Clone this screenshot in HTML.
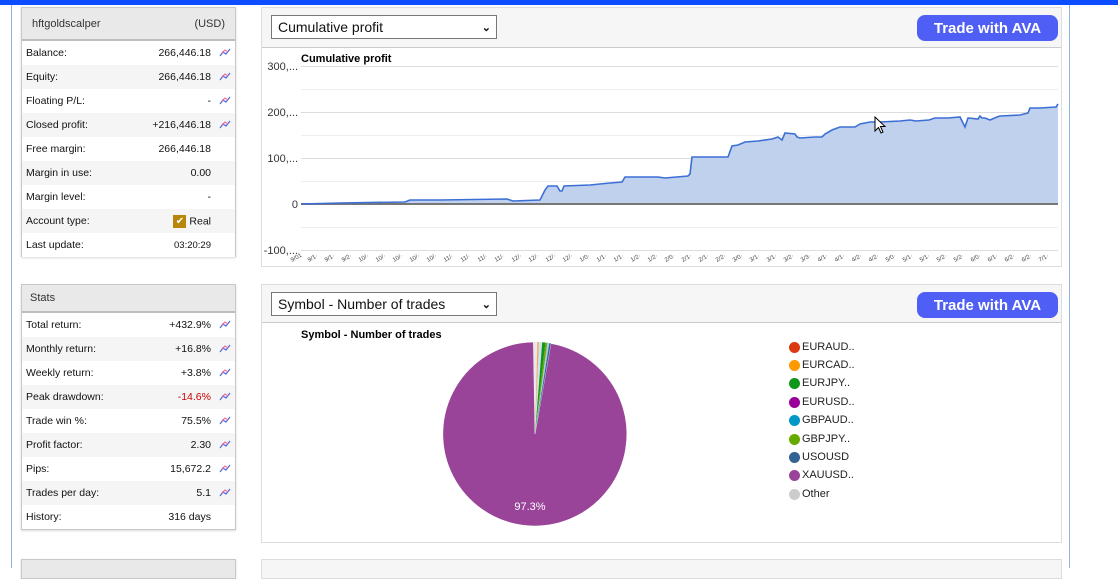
<!DOCTYPE html>
<html><head><meta charset="utf-8"><style>
*{margin:0;padding:0;box-sizing:border-box}
body{width:1118px;height:568px;overflow:hidden;background:#fff;font-family:"Liberation Sans",sans-serif;position:relative}
.abs{position:absolute}
.panel{position:absolute;border:1px solid #c8c8c8;background:#fff;box-shadow:0 1px 2px rgba(0,0,0,.15)}
.ph{background:#e9e9e9;border-bottom:2px solid #bdbdbd;font-size:11px;color:#333;padding-left:10px;display:flex;align-items:center;justify-content:space-between;padding-right:10px}
.row{height:24px;display:flex;align-items:center;font-size:10.5px;color:#111;padding-left:4px;position:relative}
.row .v{position:absolute;right:24px}
.row .ic{position:absolute;right:4px;top:6px;width:12px;height:10px}
.cp{position:absolute;border:1px solid #ddd;background:#f6f6f6}
.sel{position:absolute;border:1px solid #777;background:#fff;font-size:14px;color:#111;padding-left:6px;display:flex;align-items:center}
.btn{position:absolute;background:#4f5ff5;color:#fff;border-radius:8px;font-weight:bold;font-size:15px;display:flex;align-items:center;justify-content:center;font-family:"Liberation Sans",sans-serif}
.lg{position:absolute;font-size:11px;color:#222;left:802px}
.dot{position:absolute;left:789px;width:11px;height:11px;border-radius:50%}
</style></head><body>
<div class="abs" style="left:0;top:0;width:1118px;height:5px;background:#0c4dff"></div>
<div class="abs" style="left:11px;top:5px;width:1px;height:563px;background:#8fb0e6"></div>
<div class="abs" style="left:1069px;top:5px;width:1px;height:563px;background:#8fb0e6"></div>

<svg width="0" height="0" style="position:absolute"><defs><symbol id="ico" viewBox="0 0 12 10"><path d="M1 9 L4 5 L7 7 L11 2" stroke="#5a6ee0" stroke-width="1.3" fill="none"/><path d="M3 6 L6 3 L9 5" stroke="#e0609a" stroke-width="1" fill="none"/></symbol></defs></svg>

<div class="panel" style="left:21px;top:7px;width:215px;height:250px">
 <div class="ph" style="height:33px"><span>hftgoldscalper</span><span>(USD)</span></div>
 <div>
 <div class="row" style="background:#fff">Balance:<span class="v">266,446.18</span><svg class="ic"><use href="#ico"/></svg></div>
 <div class="row" style="background:#f5f5f5">Equity:<span class="v">266,446.18</span><svg class="ic"><use href="#ico"/></svg></div>
 <div class="row" style="background:#fff">Floating P/L:<span class="v">-</span><svg class="ic"><use href="#ico"/></svg></div>
 <div class="row" style="background:#f5f5f5">Closed profit:<span class="v">+216,446.18</span><svg class="ic"><use href="#ico"/></svg></div>
 <div class="row" style="background:#fff">Free margin:<span class="v">266,446.18</span></div>
 <div class="row" style="background:#f5f5f5">Margin in use:<span class="v">0.00</span></div>
 <div class="row" style="background:#fff">Margin level:<span class="v">-</span></div>
 <div class="row" style="background:#f5f5f5">Account type:<span class="v"><span style="display:inline-block;width:13px;height:13px;background:#b8860b;color:#fff;font-size:10px;text-align:center;line-height:13px;vertical-align:middle;margin-right:3px">✔</span>Real</span></div>
 <div class="row" style="background:#fff">Last update:<span class="v" style="font-size:9.5px">03:20:29</span></div>
 </div>
</div>

<div class="panel" style="left:21px;top:284px;width:215px;height:246px">
 <div class="ph" style="height:28px;justify-content:flex-start;padding-left:8px">Stats</div>
 <div class="row" style="background:#fff">Total return:<span class="v">+432.9%</span><svg class="ic"><use href="#ico"/></svg></div>
 <div class="row" style="background:#f5f5f5">Monthly return:<span class="v">+16.8%</span><svg class="ic"><use href="#ico"/></svg></div>
 <div class="row" style="background:#fff">Weekly return:<span class="v">+3.8%</span><svg class="ic"><use href="#ico"/></svg></div>
 <div class="row" style="background:#f5f5f5">Peak drawdown:<span class="v" style="color:#c00">-14.6%</span><svg class="ic"><use href="#ico"/></svg></div>
 <div class="row" style="background:#fff">Trade win %:<span class="v">75.5%</span><svg class="ic"><use href="#ico"/></svg></div>
 <div class="row" style="background:#f5f5f5">Profit factor:<span class="v">2.30</span><svg class="ic"><use href="#ico"/></svg></div>
 <div class="row" style="background:#fff">Pips:<span class="v">15,672.2</span><svg class="ic"><use href="#ico"/></svg></div>
 <div class="row" style="background:#f5f5f5">Trades per day:<span class="v">5.1</span><svg class="ic"><use href="#ico"/></svg></div>
 <div class="row" style="background:#fff">History:<span class="v">316 days</span></div>
</div>
<div class="panel" style="left:21px;top:559px;width:215px;height:20px;background:#e9e9e9"></div>

<!-- chart panel 1 -->
<div class="cp" style="left:261px;top:7px;width:801px;height:260px">
 <div class="abs" style="left:0;top:39px;width:799px;height:219px;background:#fff;border-top:1px solid #ccc"></div>
</div>
<div class="sel" style="left:271px;top:15px;width:226px;height:24px">Cumulative profit<span style="position:absolute;right:5px;font-size:11px;font-weight:bold">⌄</span></div>
<div class="btn" style="left:917px;top:15px;width:141px;height:26px">Trade with AVA</div>

<svg class="abs" style="left:0;top:0" width="1118" height="568">
 <g stroke="#ddd" stroke-width="1">
  <line x1="301" x2="1058" y1="66.5" y2="66.5"/><line x1="301" x2="1058" y1="89.5" y2="89.5" stroke="#eee"/>
  <line x1="301" x2="1058" y1="112.5" y2="112.5"/><line x1="301" x2="1058" y1="135.5" y2="135.5" stroke="#eee"/>
  <line x1="301" x2="1058" y1="158.5" y2="158.5"/><line x1="301" x2="1058" y1="181.5" y2="181.5" stroke="#eee"/>
  <line x1="301" x2="1058" y1="227.5" y2="227.5" stroke="#eee"/><line x1="301" x2="1058" y1="250.5" y2="250.5"/>
 </g>
 <text x="301" y="62" font-size="11" font-weight="bold" fill="#000">Cumulative profit</text>
 <g font-size="11" fill="#333" text-anchor="end">
  <text x="298" y="70">300,...</text><text x="298" y="116">200,...</text><text x="298" y="162">100,...</text><text x="298" y="208">0</text><text x="298" y="254">-100,...</text>
 </g>
 <path d="M301,204 L340,203 L405,202 L410,200 L440,200 L507,199 L513,201 L540,200 L545,190 L548,186 L557,186 L560,191 L562,191 L564,186 L590,185 L600,184 L610,183 L622,182 L625,177 L658,177 L665,178 L688,176 L690,174 L692,157 L728,157 L732,146 L738,145 L745,142 L758,141 L772,139 L778,137 L782,140 L785,133 L795,134 L797,137 L800,138 L815,137 L822,137 L825,134 L832,130 L840,127 L855,127 L860,124 L870,122 L880,122 L900,121 L910,120 L916,121 L929,120 L935,118 L948,118 L960,117 L965,127 L968,118 L978,119 L980,116 L982,118 L985,118 L990,120 L997,117 L1000,116 L1020,115 L1028,113 L1030,108 L1040,108 L1056,107 L1058,104 L1058,204 Z" fill="#c0d1ee"/>
 <line x1="301" x2="1058" y1="204" y2="204" stroke="#777" stroke-width="2"/>
 <path d="M301,204 L340,203 L405,202 L410,200 L440,200 L507,199 L513,201 L540,200 L545,190 L548,186 L557,186 L560,191 L562,191 L564,186 L590,185 L600,184 L610,183 L622,182 L625,177 L658,177 L665,178 L688,176 L690,174 L692,157 L728,157 L732,146 L738,145 L745,142 L758,141 L772,139 L778,137 L782,140 L785,133 L795,134 L797,137 L800,138 L815,137 L822,137 L825,134 L832,130 L840,127 L855,127 L860,124 L870,122 L880,122 L900,121 L910,120 L916,121 L929,120 L935,118 L948,118 L960,117 L965,127 L968,118 L978,119 L980,116 L982,118 L985,118 L990,120 L997,117 L1000,116 L1020,115 L1028,113 L1030,108 L1040,108 L1056,107 L1058,104" fill="none" stroke="#3c6fd6" stroke-width="1.6"/>
 <g font-size="6" fill="#444">
  <text transform="translate(292,262) rotate(-30)">9/01</text>
  <text transform="translate(309,262) rotate(-30)">9/1·</text><text transform="translate(326,262) rotate(-30)">9/1·</text><text transform="translate(343,262) rotate(-30)">9/2·</text><text transform="translate(360,262) rotate(-30)">10/·</text><text transform="translate(377,262) rotate(-30)">10/·</text><text transform="translate(394,262) rotate(-30)">10/·</text><text transform="translate(411,262) rotate(-30)">10/·</text><text transform="translate(428,262) rotate(-30)">10/·</text><text transform="translate(445,262) rotate(-30)">11/·</text><text transform="translate(462,262) rotate(-30)">11/·</text><text transform="translate(479,262) rotate(-30)">11/·</text><text transform="translate(496,262) rotate(-30)">11/·</text><text transform="translate(513,262) rotate(-30)">12/·</text><text transform="translate(530,262) rotate(-30)">12/·</text><text transform="translate(547,262) rotate(-30)">12/·</text><text transform="translate(564,262) rotate(-30)">12/·</text><text transform="translate(581,262) rotate(-30)">1/0·</text><text transform="translate(598,262) rotate(-30)">1/1·</text><text transform="translate(615,262) rotate(-30)">1/1·</text><text transform="translate(632,262) rotate(-30)">1/2·</text><text transform="translate(649,262) rotate(-30)">1/2·</text><text transform="translate(666,262) rotate(-30)">2/0·</text><text transform="translate(683,262) rotate(-30)">2/1·</text><text transform="translate(700,262) rotate(-30)">2/1·</text><text transform="translate(717,262) rotate(-30)">2/2·</text><text transform="translate(734,262) rotate(-30)">3/0·</text><text transform="translate(751,262) rotate(-30)">3/1·</text><text transform="translate(768,262) rotate(-30)">3/1·</text><text transform="translate(785,262) rotate(-30)">3/2·</text><text transform="translate(802,262) rotate(-30)">3/3·</text><text transform="translate(819,262) rotate(-30)">4/1·</text><text transform="translate(836,262) rotate(-30)">4/1·</text><text transform="translate(853,262) rotate(-30)">4/2·</text><text transform="translate(870,262) rotate(-30)">4/2·</text><text transform="translate(887,262) rotate(-30)">5/0·</text><text transform="translate(904,262) rotate(-30)">5/1·</text><text transform="translate(921,262) rotate(-30)">5/1·</text><text transform="translate(938,262) rotate(-30)">5/2·</text><text transform="translate(955,262) rotate(-30)">5/2·</text><text transform="translate(972,262) rotate(-30)">6/0·</text><text transform="translate(989,262) rotate(-30)">6/1·</text><text transform="translate(1006,262) rotate(-30)">6/2·</text><text transform="translate(1023,262) rotate(-30)">6/2·</text><text transform="translate(1040,262) rotate(-30)">7/1·</text>
 </g>
</svg>

<!-- chart panel 2 -->
<div class="cp" style="left:261px;top:284px;width:801px;height:259px">
 <div class="abs" style="left:0;top:37px;width:799px;height:220px;background:#fff;border-top:1px solid #ccc"></div>
</div>
<div class="sel" style="left:271px;top:292px;width:226px;height:24px">Symbol - Number of trades<span style="position:absolute;right:5px;font-size:11px;font-weight:bold">⌄</span></div>
<div class="btn" style="left:917px;top:292px;width:141px;height:26px">Trade with AVA</div>

<svg class="abs" style="left:0;top:0" width="1118" height="568">
 <text x="301" y="338" font-size="11" font-weight="bold" fill="#000">Symbol - Number of trades</text>
 <path d="M535,434 L550.9,343.4 A92,92 0 1 1 533.4,342 Z" fill="#994499" stroke="#fff" stroke-width="0.6"/>
 <path d="M535,434 L533.4,342 A92,92 0 0 1 537.4,342 Z" fill="#e8e8e8"/>
 <path d="M535,434 L537.4,342 A92,92 0 0 1 539,342.1 Z" fill="#f5a35c"/>
 <path d="M535,434 L539,342.1 A92,92 0 0 1 542.2,342.3 Z" fill="#cfe0ef"/>
 <path d="M535,434 L542.2,342.3 A92,92 0 0 1 545.4,342.6 Z" fill="#109618"/>
 <path d="M535,434 L545.4,342.6 A92,92 0 0 1 547.4,342.8 Z" fill="#66aa00"/>
 <path d="M535,434 L547.4,342.8 A92,92 0 0 1 549.3,343.1 Z" fill="#aac8e8"/>
 <path d="M535,434 L549.3,343.1 A92,92 0 0 1 550.9,343.4 Z" fill="#316395"/>
 <text x="530" y="510" font-size="11" fill="#fff" text-anchor="middle">97.3%</text>
</svg>
<div class="dot" style="top:342px;background:#dc3912"></div><div class="lg" style="top:341px">EURAUD..</div>
<div class="dot" style="top:360px;background:#ff9900"></div><div class="lg" style="top:359px">EURCAD..</div>
<div class="dot" style="top:378px;background:#109618"></div><div class="lg" style="top:377px">EURJPY..</div>
<div class="dot" style="top:397px;background:#990099"></div><div class="lg" style="top:396px">EURUSD..</div>
<div class="dot" style="top:415px;background:#0099c6"></div><div class="lg" style="top:414px">GBPAUD..</div>
<div class="dot" style="top:434px;background:#66aa00"></div><div class="lg" style="top:433px">GBPJPY..</div>
<div class="dot" style="top:452px;background:#316395"></div><div class="lg" style="top:451px">USOUSD</div>
<div class="dot" style="top:470px;background:#994499"></div><div class="lg" style="top:469px">XAUUSD..</div>
<div class="dot" style="top:489px;background:#cccccc"></div><div class="lg" style="top:488px">Other</div>

<div class="cp" style="left:261px;top:559px;width:801px;height:20px"></div>

<svg class="abs" style="left:874px;top:116px" width="14" height="20"><path d="M1,1 L1,15 L4.5,11.5 L7,17 L9,16 L6.5,10.5 L11,10.5 Z" fill="#fff" stroke="#000" stroke-width="1"/></svg>
</body></html>
